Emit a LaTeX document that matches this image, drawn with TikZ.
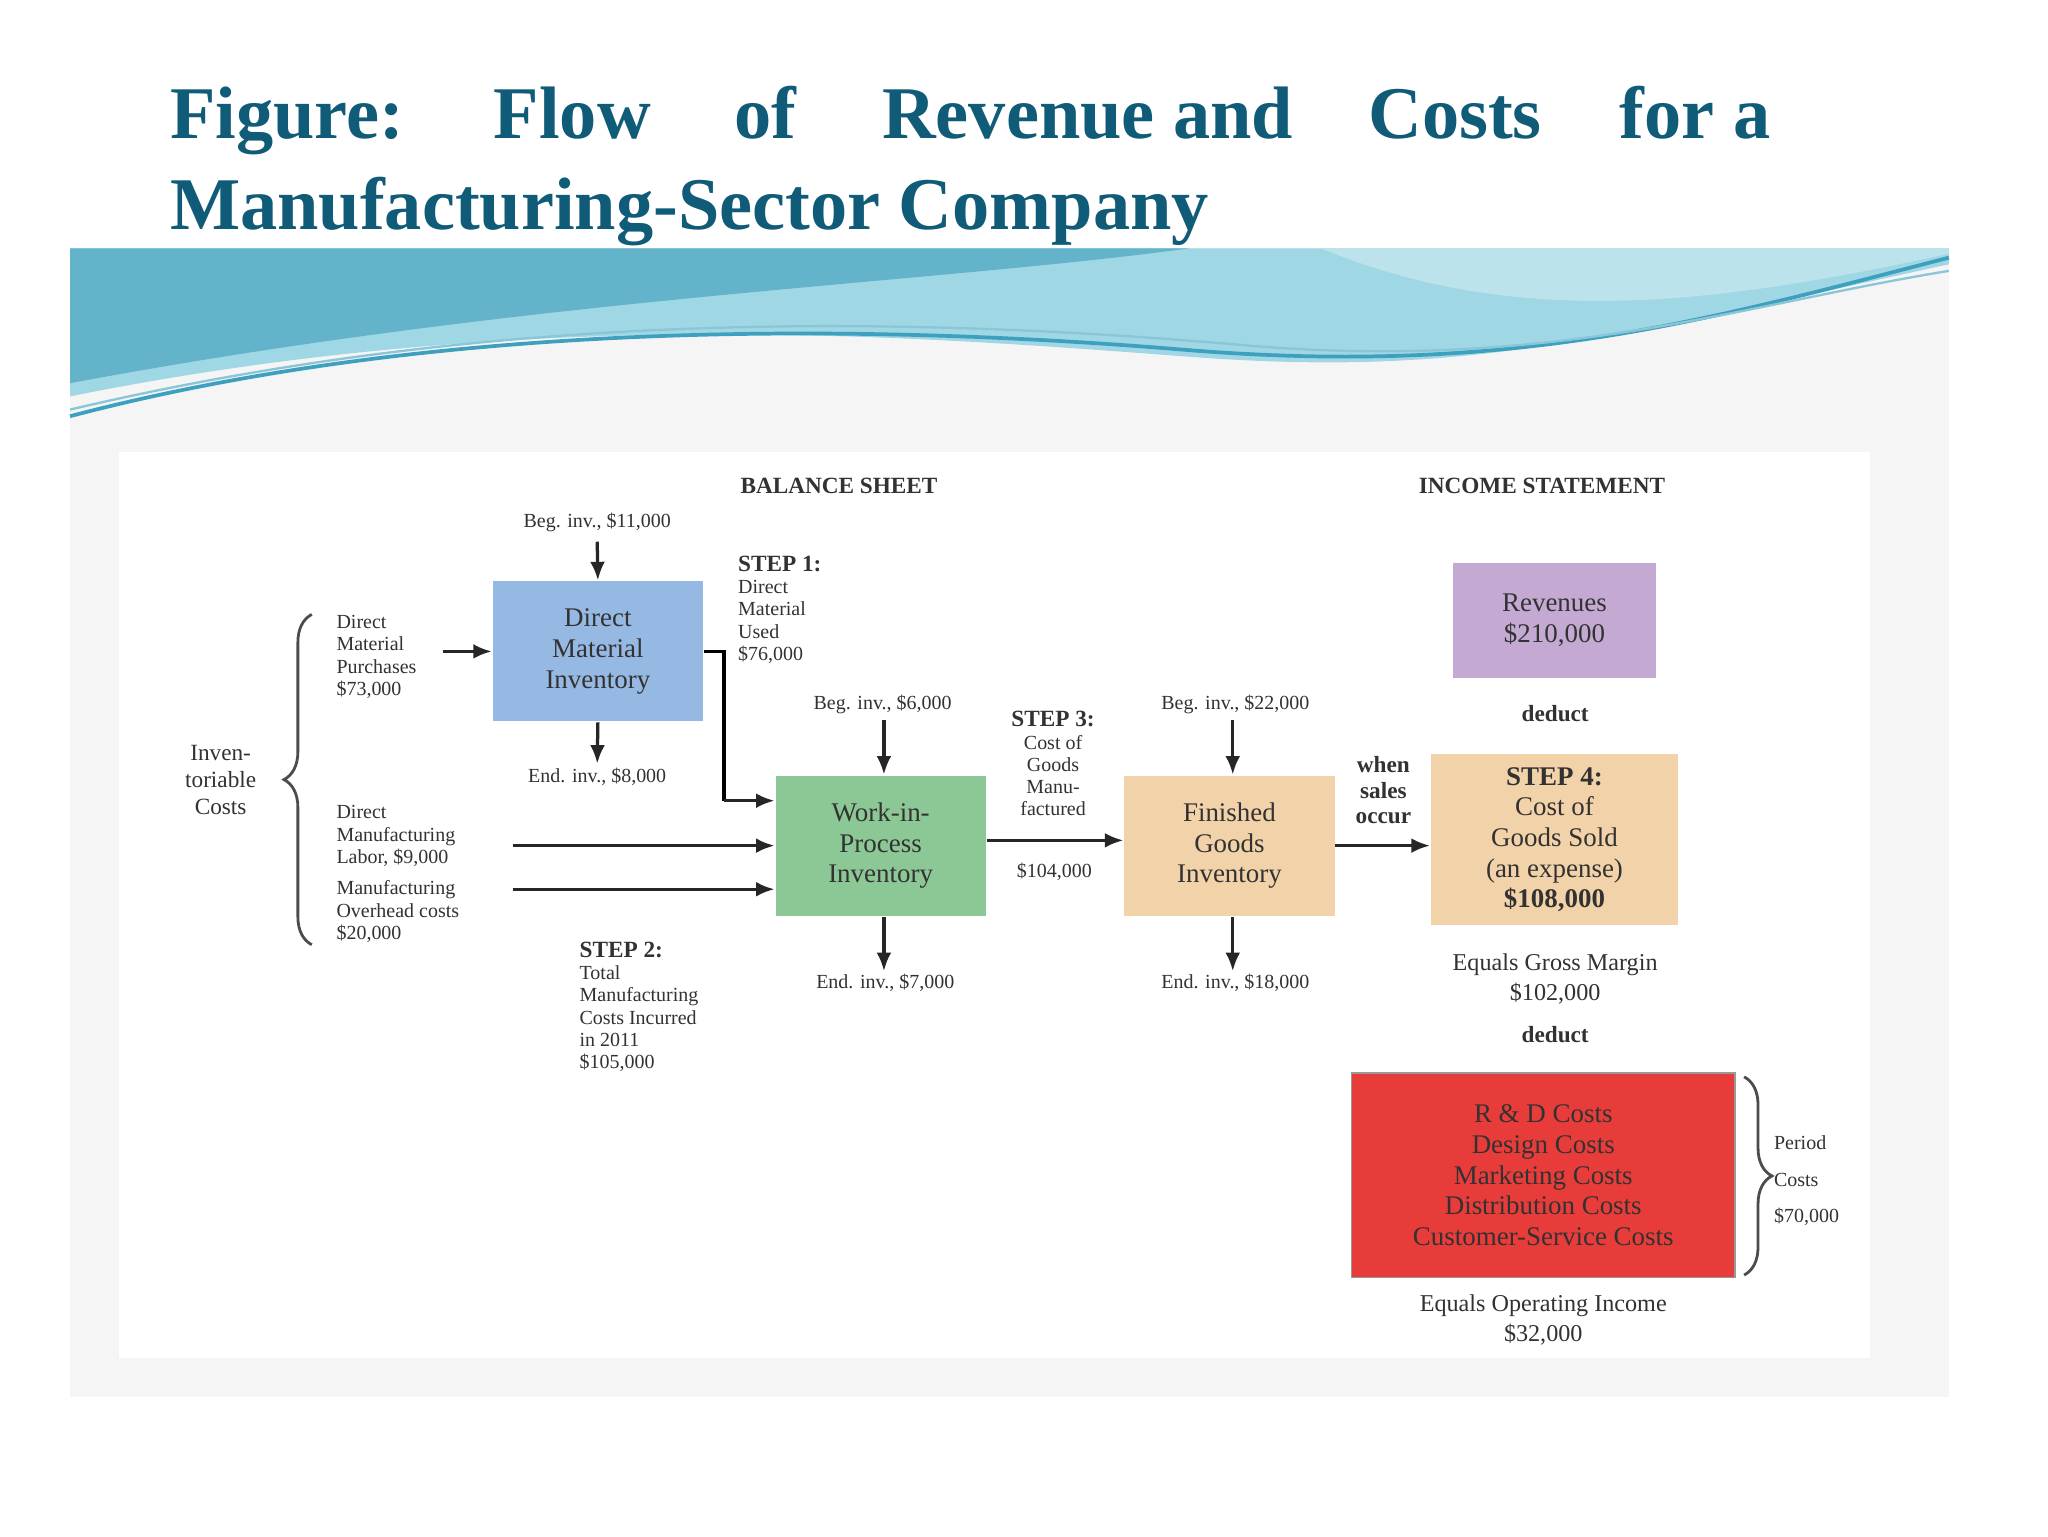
\documentclass[tikz,border=0pt]{standalone}
\usepackage{fontspec}
\setmainfont{Liberation Serif}
\usetikzlibrary{arrows.meta,decorations.pathreplacing}
\definecolor{ttl}{RGB}{16,92,120}
\definecolor{bblue}{RGB}{150,185,228}
\definecolor{bgreen}{RGB}{140,200,150}
\definecolor{btan}{RGB}{242,210,168}
\definecolor{bpurp}{RGB}{196,170,210}
\definecolor{bred}{RGB}{232,60,58}
\definecolor{wave1}{RGB}{60,160,190}
\definecolor{wave2}{RGB}{160,215,228}
\definecolor{txt}{RGB}{50,50,50}
\tikzset{
 box/.style={draw=none,text=txt,align=center,inner sep=0pt,font=\fontsize{5.8}{6.6}\selectfont},
 sm/.style={text=txt,font=\fontsize{4.3}{4.8}\selectfont,inner sep=0pt},
 smb/.style={sm,font=\fontsize{5}{5.4}\selectfont\bfseries},
 arr/.style={-{Latex[length=4pt,width=3.2pt]},line width=0.7pt,draw=black!85},
 tw/.style={text=ttl,font=\fontsize{16}{19}\selectfont\bfseries,inner sep=0pt,anchor=base west}
}
\begin{document}
\begin{tikzpicture}[x=0.01cm,y=-0.01cm]
\useasboundingbox (0,0) rectangle (1550,1162.5);
\fill[white] (0,0) rectangle (1550,1162.5);
% background
\fill[black!4] (53,188) rectangle (1475,1057);
\fill[white] (90,342) rectangle (1415,1028);
% waves
\fill[wave2] (53,188) -- (1475,188) -- (1475,200) .. controls (1200,260) and (1100,285) .. (900,270) .. controls (700,255) and (400,230) .. (53,300) -- cycle;
\fill[wave1!80] (53,188) -- (900,188) .. controls (700,215) and (400,225) .. (53,290) -- cycle;
\fill[wave2!70!white] (1000,188) -- (1475,188) -- (1475,192) .. controls (1300,230) and (1150,250) .. (1000,188) -- cycle;
\draw[wave1,line width=0.8pt] (53,315) .. controls (300,250) and (600,240) .. (900,265) .. controls (1150,285) and (1300,240) .. (1475,195);
\draw[wave1!60,line width=0.5pt] (53,310) .. controls (350,240) and (650,235) .. (950,262) .. controls (1180,280) and (1320,230) .. (1475,205);
% title
\node[tw] (t1) at (128,105) {Figure:};
\node[tw] (t2) at (373,105) {Flow};
\node[tw] (t3) at (555,105) {of};
\node[tw] (t4) at (667,105) {Revenue and};
\node[tw] (t5) at (1035,105) {Costs};
\node[tw] (t6) at (1225,105) {for a};
\node[tw] (t7) at (128,174) {Manufacturing-Sector Company};
% headers
\node[smb] (h1) at (635,368) {BALANCE SHEET};
\node[smb] (h2) at (1167,368) {INCOME STATEMENT};
% boxes
\node[box,fill=bblue,minimum width=1.59cm,minimum height=1.06cm] (dmi) at (452.5,493) {Direct\\Material\\Inventory};
\node[box,fill=bgreen,minimum width=1.59cm,minimum height=1.06cm] (wip) at (666.5,640) {Work-in-\\Process\\Inventory};
\node[box,fill=btan,minimum width=1.59cm,minimum height=1.06cm] (fg) at (930.5,640) {Finished\\Goods\\Inventory};
\node[box,fill=bpurp,minimum width=1.53cm,minimum height=0.87cm] (rev) at (1176.5,469.5) {Revenues\\\$210,000};
\node[box,fill=btan,minimum width=1.87cm,minimum height=1.29cm] (s4) at (1176.5,635.5) {\textbf{STEP 4:}\\Cost of\\Goods Sold\\(an expense)\\\textbf{\$108,000}};
\node[box,fill=bred,minimum width=2.9cm,minimum height=1.55cm,draw=black!40,line width=0.3pt] (rd) at (1168,889.5) {R \& D Costs\\Design Costs\\Marketing Costs\\Distribution Costs\\Customer-Service Costs};
% labels
\node[sm] (b1) at (452,395) {Beg. inv., \$11,000};
\node[sm] (e1) at (452,588) {End. inv., \$8,000};
\node[sm,align=left,anchor=north west] (dmp) at (254,465) {Direct\\Material\\Purchases\\\$73,000};
\node[sm,align=left,anchor=north west] (s1) at (558,420) {\textbf{\fontsize{5}{5}\selectfont STEP 1:}\\Direct\\Material\\Used\\\$76,000};
\node[sm,align=left,anchor=north west] (dml) at (254,609) {Direct\\Manufacturing\\Labor, \$9,000};
\node[sm,align=left,anchor=north west] (moc) at (254,666) {Manufacturing\\Overhead costs\\\$20,000};
\node[sm,align=center,font=\fontsize{5}{5.8}\selectfont] (inv) at (167,590) {Inven-\\toriable\\Costs};
\node[sm,align=left,anchor=north west] (s2) at (438,712) {\textbf{\fontsize{5}{5}\selectfont STEP 2:}\\Total\\Manufacturing\\Costs Incurred\\in 2011\\\$105,000};
\node[sm] (b2) at (668,533) {Beg. inv., \$6,000};
\node[sm] (e2) at (670,744) {End. inv., \$7,000};
\node[sm,align=center] (s3) at (797,578) {\textbf{\fontsize{5}{5}\selectfont STEP 3:}\\Cost of\\Goods\\Manu-\\factured};
\node[sm] (v3) at (798,660) {\$104,000};
\node[sm] (b3) at (935,533) {Beg. inv., \$22,000};
\node[sm] (e3) at (935,744) {End. inv., \$18,000};
\node[smb,align=center] (ws) at (1047,598) {when\\sales\\occur};
\node[smb] (d1) at (1177,540) {deduct};
\node[sm,align=center,font=\fontsize{5.2}{6.6}\selectfont] (gm) at (1177,741) {Equals Gross Margin\\\$102,000};
\node[smb] (d2) at (1177,783) {deduct};
\node[sm,align=center,font=\fontsize{5.2}{6.6}\selectfont] (oi) at (1168,999) {Equals Operating Income\\\$32,000};
\node[sm,align=left,anchor=north west] (pc) at (1342,859) {Period\\[3pt]Costs\\[3pt]\$70,000};
% coordinates
\coordinate (c1) at (548,493);
\coordinate (c2) at (548,606);
\coordinate (l1) at (388,640);
\coordinate (l2) at (388,673);
\coordinate (m1) at (335,493);
% arrows
\draw[arr] (452,410) -- (dmi.north);
\draw[arr] (dmi.south) -- (452,578);
\draw[arr] (m1) -- (dmi.west);
\draw[line width=0.7pt] (dmi.east) -- (c1) -- (c2);
\draw[arr] (c2) -- (wip.west|-c2);
\draw[arr] (l1) -- (wip.west|-l1);
\draw[arr] (l2) -- (wip.west|-l2);
\draw[arr] (669,545) -- (wip.north-|669,0);
\draw[arr] (wip.south-|669,0) -- (669,735);
\draw[arr] (wip.east|-0,636) -- (fg.west|-0,636);
\draw[arr] (933,545) -- (fg.north-|933,0);
\draw[arr] (fg.south-|933,0) -- (933,735);
\draw[arr] (fg.east) -- (s4.west|-fg.east);
% braces
\draw[decorate,decoration={brace,amplitude=6pt},line width=0.6pt,black!70] (236,715) -- (236,465);
\draw[decorate,decoration={brace,amplitude=6pt},line width=0.6pt,black!70] (1320,815) -- (1320,965);
\end{tikzpicture}
\end{document}
